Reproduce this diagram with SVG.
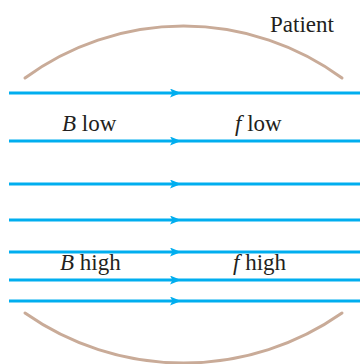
<svg xmlns="http://www.w3.org/2000/svg" width="360" height="364" viewBox="0 0 360 364">
<defs>
<style>
.field{stroke:#00aeef;stroke-width:3;fill:none;marker-mid:url(#ah)}
.arc{stroke:#c9ab98;stroke-width:3;fill:none;stroke-linecap:round}
.lbl{font-family:"Liberation Serif","Times New Roman",serif;font-size:23px;fill:#231f20}
.it{font-style:italic}
</style>
<marker id="ah" markerUnits="userSpaceOnUse" viewBox="0 0 11 9" refX="11" refY="4.5" markerWidth="11" markerHeight="9" orient="auto">
<path d="M0,0 L11,4.5 L0,9 L2.5,4.5 Z" fill="#00aeef"/>
</marker>
</defs>
<g id="patient">
<path class="arc" d="M25,78 A268,268 0 0 1 342,78"/>
<path class="arc" d="M25,313 A276,276 0 0 0 342,313"/>
<text class="lbl" x="270" y="32">Patient</text>
</g>
<g id="connectors">
<path class="field" d="M9,93 L181,93 L360,93"/>
<path class="field" d="M9,141 L181,141 L360,141"/>
<path class="field" d="M9,184 L181,184 L360,184"/>
<path class="field" d="M9,220 L181,220 L360,220"/>
<path class="field" d="M9,252 L181,252 L360,252"/>
<path class="field" d="M9,280 L181,280 L360,280"/>
<path class="field" d="M9,301 L181,301 L360,301"/>
</g>
<g id="label-b-low"><text class="lbl" x="62" y="131"><tspan class="it">B</tspan> low</text></g>
<g id="label-f-low"><text class="lbl" x="235" y="131"><tspan class="it">f</tspan> low</text></g>
<g id="label-b-high"><text class="lbl" x="60" y="270"><tspan class="it">B</tspan> high</text></g>
<g id="label-f-high"><text class="lbl" x="233" y="270"><tspan class="it">f</tspan> high</text></g>
</svg>
